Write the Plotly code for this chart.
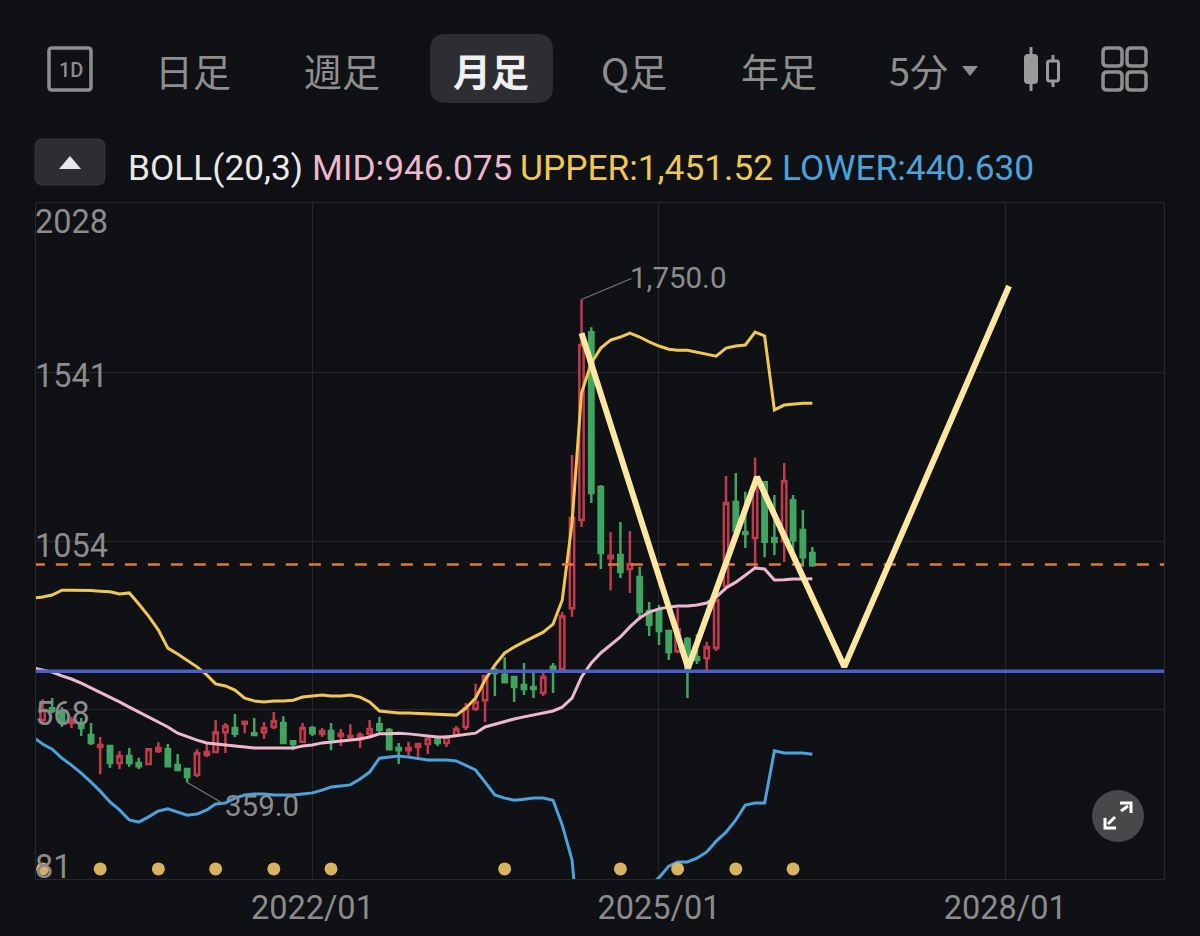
import pandas as pd
import plotly.graph_objects as go

# ---------- data ----------
months = pd.date_range("2019-09-01", periods=81, freq="MS").strftime("%Y-%m-%d").tolist()
line_months = ["2019-08-01"] + months

opens = [539,573,559,530,530,496,461,464,415,435,415,412,450,455,409,398,381,438,447,504,516,528,501,504,519,530,478,476,
         516,499,507,493,490,490,499,527,510,458,452,461,470,487,473,496,519,571,596,683,669,663,640,634,617,692,686,861,
         1115,1656,1210,1005,1014,974,951,853,856,795,737,772,720,717,746,925,1167,1080,1063,1224,1063,1054,1172,1086,1020]
highs = [599,602,576,548,545,530,490,467,450,458,430,458,475,470,441,398,455,473,539,530,556,536,545,533,562,550,481,530,
         522,516,530,513,527,504,539,548,516,473,476,470,490,487,496,522,588,643,669,689,720,663,703,677,683,703,850,1302,
         1750,1670,1216,1080,1109,1083,980,879,870,795,861,778,787,764,900,1242,1250,1196,1294,1224,1187,1279,1187,1144,1037]
lows = [533,559,519,516,493,467,383,401,398,404,398,410,444,403,395,359,375,432,444,444,490,501,496,484,513,470,452,476,
        493,490,452,464,481,458,490,504,452,412,432,432,441,464,461,493,510,565,533,608,645,591,611,602,608,617,683,836,
        1095,1164,974,913,948,905,827,781,755,712,731,602,700,680,738,922,1083,1034,980,1008,1014,994,1008,980,980]
closes = [568,565,533,538,516,473,467,415,435,415,406,455,458,406,395,375,444,447,504,522,499,534,496,516,536,473,470,516,
          501,507,484,499,493,496,513,510,455,452,458,470,484,473,490,513,573,591,666,674,648,634,628,628,663,683,838,1121,
          1619,1193,1020,1012,965,988,850,813,795,735,800,683,712,749,884,1164,1083,1075,1210,1052,1052,1227,1057,1008,985]

upper = [890,893,899,913,913,913,912,910,908,902,905,873,838,798,746,729,712,692,669,643,637,625,602,594,591,594,594,596,605,
         608,611,608,608,611,605,591,565,562,559,559,558,556,556,555,553,573,602,654,697,732,749,764,778,792,815,884,1106,
         1481,1567,1610,1633,1642,1653,1642,1628,1616,1607,1604,1604,1599,1593,1587,1610,1616,1619,1656,1645,1432,1446,1449,1451,1451.52]
mid = [689,683,677,666,657,645,631,620,605,591,576,562,548,533,519,501,490,481,473,470,467,464,461,458,458,458,458,458,464,
       467,473,476,478,481,484,490,499,499,501,499,496,493,490,490,493,496,501,519,527,533,542,548,553,559,565,576,602,
       663,703,732,755,778,807,833,850,859,864,867,867,870,876,893,919,936,956,977,974,942,943,945,945,946.075]
lower = [490,470,455,429,409,386,360,334,303,280,251,245,260,277,283,274,265,268,280,297,300,314,323,326,326,323,323,323,326,
         329,337,346,349,352,369,389,429,432,435,432,427,424,424,424,421,409,395,360,323,314,308,311,314,314,308,237,136,
         -155,-161,-146,-123,-86,-39,24,60,85,118,130,130,141,159,190,216,251,294,300,300,450,444,444,444,440.63]

dot_months = ["2019-09-01","2020-03-01","2020-09-01","2021-03-01","2021-09-01","2022-03-01",
              "2023-09-01","2024-09-01","2025-03-01","2025-09-01","2026-03-01"]
dot_level = [110] * len(dot_months)

orange_level = 987
blue_level = 679
line_span = ["2019-08-01", "2029-06-01"]

drawn_months = ["2024-05-01", "2025-04-03", "2025-11-07", "2026-08-10", "2028-01-13"]
drawn_values = [1653, 689, 1239, 692, 1789]

y_ticks = [81, 568, 1054, 1541, 2028]
y_tick_labels = ["81", "568", "1054", "1541", "2028"]
y_label_shift = [12, -4, -5, -4, -19]
x_ticks = ["2022-01-01", "2025-01-01", "2028-01-01"]
x_tick_labels = ["2022/01", "2025/01", "2028/01"]

high_month, high_value, high_label = "2024-05-01", 1750, "1,750.0"
low_month, low_value, low_label = "2020-12-01", 359, "359.0"

tabs = [("日足", 193), ("週足", 342), ("月足", 491), ("Q足", 634), ("年足", 779), ("5分", 918)]
legend = [("BOLL(20,3)", 129, "#e8e8e8"), ("MID:946.075", 313, "#eeb8cc"),
          ("UPPER:1,451.52", 521, "#f0c850"), ("LOWER:440.630", 783, "#4aa3dc")]

# ---------- style ----------
BG = "#0f1114"
GRID = "#26282b"
GREY = "#8c8c8c"
W, H = 1200, 936
L, R, T, B = 36, 1164, 203, 879


def px(x):
    return (x - L) / (R - L)


def py(y):
    return (B - y) / (B - T)


def rrect(x0, y0, x1, y1, r):
    a, b, c, d = px(x0), px(x1), py(y0), py(y1)
    ax, ay = r / (R - L), r / (B - T)
    return (f"M{a+ax},{c} L{b-ax},{c} Q{b},{c} {b},{c-ay} L{b},{d+ay} Q{b},{d} {b-ax},{d} "
            f"L{a+ax},{d} Q{a},{d} {a},{d+ay} L{a},{c-ay} Q{a},{c} {a+ax},{c} Z")


def poly(pts, close=True):
    s = "M" + " L".join(f"{px(x)},{py(y)}" for x, y in pts)
    return s + (" Z" if close else "")


shapes = []


def add_path(path, fill=None, line=None, width=0):
    shapes.append(dict(type="path", xref="paper", yref="paper", path=path,
                       fillcolor=fill if fill else "rgba(0,0,0,0)",
                       line=dict(color=line if line else "rgba(0,0,0,0)", width=width)))


# toolbar decorations
add_path(rrect(430, 34, 553, 103, 16), fill="#2d2e32")
add_path(rrect(35, 139, 105, 185, 8), fill="#2d2e32", line="#36373b", width=1)
add_path(poly([(59, 169), (81, 169), (70, 156)]), fill="#e8e8e8")
add_path(rrect(49, 48, 91, 90, 3), line="#8e8e8e", width=3.5)
add_path(poly([(962, 66), (978, 66), (970, 76)]), fill="#8e8e8e")
# candle icon
add_path(poly([(1031, 47), (1031, 91)], False), line="#9a9a9a", width=3)
add_path(rrect(1024, 54, 1038, 84, 4), fill="#9a9a9a")
add_path(poly([(1053, 55), (1053, 87)], False), line="#9a9a9a", width=3)
add_path(rrect(1047.5, 61, 1058.5, 81, 2), fill=BG, line="#9a9a9a", width=3)
# grid icon
for gx in (1103, 1127):
    for gy in (48, 72):
        add_path(rrect(gx, gy, gx + 19, gy + 18, 4), line="#8e8e8e", width=3.5)
# expand button
shapes.append(dict(type="circle", xref="paper", yref="paper", x0=px(1092), x1=px(1144), y0=py(842), y1=py(790),
                   fillcolor="#47484a", line=dict(width=0)))
add_path(poly([(1108, 824), (1115, 817)], False), line="#ffffff", width=3)
add_path(poly([(1121, 811), (1128, 806)], False), line="#ffffff", width=3)
add_path(poly([(1105, 818), (1105, 828), (1116, 828)], False), line="#ffffff", width=3)
add_path(poly([(1120, 803), (1131, 803), (1131, 813)], False), line="#ffffff", width=3)

# leader lines of the extreme labels
shapes.append(dict(type="line", xref="x", yref="y", xsizemode="pixel", ysizemode="pixel",
                   xanchor=high_month, yanchor=high_value, x0=0, x1=50, y0=0, y1=21,
                   line=dict(color="#77787a", width=1.2)))
shapes.append(dict(type="line", xref="x", yref="y", xsizemode="pixel", ysizemode="pixel",
                   xanchor=low_month, yanchor=low_value, x0=0, x1=36, y0=0, y1=-21,
                   line=dict(color="#77787a", width=1.2)))

annotations = []
for text, cx in tabs:
    active = text == "月足"
    annotations.append(dict(xref="paper", yref="paper", x=px(cx), y=py(69), text=text, showarrow=False,
                            xanchor="center", yanchor="middle",
                            font=dict(family="Noto Sans CJK JP", size=38,
                                      color="#f0f0f0" if active else "#8e8e8e",
                                      weight=700 if active else 400)))
annotations.append(dict(xref="paper", yref="paper", x=px(70.5), y=py(69.5), text="1D", showarrow=False,
                        xanchor="center", yanchor="middle",
                        font=dict(family="Roboto", size=20, color="#8e8e8e", weight=500)))
for text, lx, col in legend:
    annotations.append(dict(xref="paper", yref="paper", x=px(lx), y=py(168), text=text, showarrow=False,
                            xanchor="left", yanchor="middle", xshift=-3,
                            font=dict(family="Roboto", size=35.3, color=col)))
for val, lab, shift in zip(y_ticks, y_tick_labels, y_label_shift):
    annotations.append(dict(xref="paper", yref="y", x=0, y=val, text=lab, showarrow=False,
                            xanchor="left", yanchor="middle", yshift=shift, xshift=-3,
                            font=dict(family="Roboto", size=32.5, color=GREY)))
annotations.append(dict(xref="x", yref="y", x=high_month, y=high_value, text=high_label, showarrow=False,
                        xanchor="left", yanchor="middle", xshift=46, yshift=22,
                        font=dict(family="Roboto", size=29.5, color=GREY)))
annotations.append(dict(xref="x", yref="y", x=low_month, y=low_value, text=low_label, showarrow=False,
                        xanchor="left", yanchor="middle", xshift=36, yshift=-24,
                        font=dict(family="Roboto", size=29.5, color=GREY)))

fig = go.Figure()
fig.add_trace(go.Candlestick(x=months, open=opens, high=highs, low=lows, close=closes, whiskerwidth=0,
                             increasing=dict(line=dict(color="#c23a4e", width=2.5), fillcolor=BG),
                             decreasing=dict(line=dict(color="#3fa561", width=2.5), fillcolor="#3fa561"),
                             hoverinfo="skip", showlegend=False))
fig.add_trace(go.Scatter(x=line_months, y=upper, mode="lines", line=dict(color="#f0c850", width=3), showlegend=False))
fig.add_trace(go.Scatter(x=line_months, y=lower, mode="lines", line=dict(color="#4aa3dc", width=3), showlegend=False))
fig.add_trace(go.Scatter(x=line_months, y=mid, mode="lines", line=dict(color="#eeb8cc", width=3), showlegend=False))
fig.add_trace(go.Scatter(x=dot_months, y=dot_level, mode="markers",
                         marker=dict(color="#d8b25e", size=13), showlegend=False))
fig.add_trace(go.Scatter(x=line_span, y=[orange_level, orange_level], mode="lines",
                         line=dict(color="#e07a2c", width=2.5, dash="12px,11px"), showlegend=False))
fig.add_trace(go.Scatter(x=line_span, y=[blue_level, blue_level], mode="lines",
                         line=dict(color="#4a5fc8", width=3.5), showlegend=False))
fig.add_trace(go.Scatter(x=drawn_months, y=drawn_values, mode="lines",
                         line=dict(color="#fbe6a2", width=6), showlegend=False))

fig.update_layout(
    width=W, height=H, autosize=False,
    margin=dict(l=L, r=W - R, t=T, b=H - B, pad=0, autoexpand=False),
    paper_bgcolor=BG, plot_bgcolor=BG, showlegend=False, hovermode=False,
    shapes=shapes, annotations=annotations,
    font=dict(family="Roboto", color=GREY),
    xaxis=dict(type="date", range=["2019-08-11", "2029-05-17"], rangeslider=dict(visible=False),
               automargin=False,
               tickmode="array", tickvals=x_ticks, ticktext=x_tick_labels, ticks="",
               tickfont=dict(family="Roboto", size=32.5, color=GREY), ticklabelstandoff=0,
               showgrid=True, gridcolor=GRID, gridwidth=1, zeroline=False,
               showline=True, linecolor=GRID, linewidth=1, mirror=True),
    yaxis=dict(range=[81, 2028], tickmode="array", tickvals=y_ticks, showticklabels=False, ticks="",
               showgrid=True, gridcolor=GRID, gridwidth=1, zeroline=False,
               showline=True, linecolor=GRID, linewidth=1, mirror=True),
)

fig.write_html("out.html", config=dict(displayModeBar=False),
               post_script=f"document.body.style.margin='0';document.body.style.background='{BG}';"
                           "document.documentElement.style.overflow='hidden';")
